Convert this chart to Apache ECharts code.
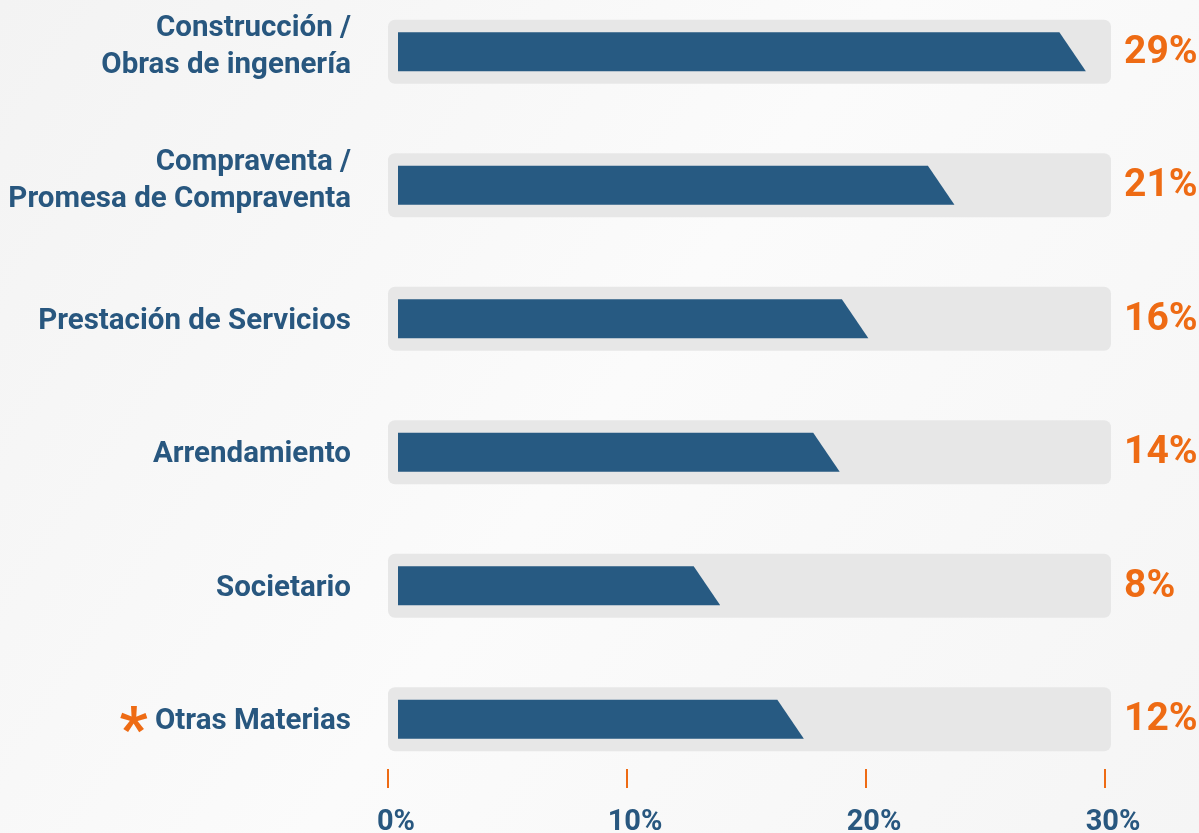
<!DOCTYPE html>
<html>
<head>
<meta charset="utf-8">
<script src="https://cdn.jsdelivr.net/npm/echarts@6/dist/echarts.min.js"></script>
<style>
  html, body { margin: 0; padding: 0; }
  #chart { width: 1199px; height: 833px; }
</style>
</head>
<body>
<div id="chart"></div>
<script>
const categories = [
  'Construcción /\nObras de ingenería',
  'Compraventa /\nPromesa de Compraventa',
  'Prestación de Servicios',
  'Arrendamiento',
  'Societario',
  'Otras Materias'
]
// printed shares (labels at the right)
const shares = [29, 21, 16, 14, 8, 12]
// where each dark bar ends on the 0-30 % axis, as drawn
const barEnds = [29.2, 23.7, 20.1, 18.9, 13.9, 17.4]
const xTicks = [0, 10, 20, 30]

const blue = '#275a82'
const textBlue = '#28577f'
const orange = '#ee6b14'
const axisMax = 30

const chart = echarts.init(document.getElementById('chart'))

function renderTrack(params, api) {
  const idx = api.value(1)
  const start = api.coord([0, idx])
  const end = api.coord([axisMax, idx])
  const h = api.size([0, 1])[1] * 0.48
  return {
    type: 'group',
    children: [
      {
        type: 'rect',
        shape: { x: start[0], y: start[1] - h / 2, width: end[0] - start[0] + 6, height: h, r: 7 },
        style: { fill: '#e7e7e7' }
      },
      {
        type: 'text',
        style: {
          text: shares[idx] + '%',
          x: end[0] + 19,
          y: start[1] + 1,
          align: 'left',
          verticalAlign: 'middle',
          fill: orange,
          font: 'bold 39px Roboto, sans-serif'
        }
      }
    ]
  }
}

function renderBar(params, api) {
  const idx = api.value(1)
  const start = api.coord([0, idx])
  const end = api.coord([api.value(0), idx])
  const h = api.size([0, 1])[1] * 0.292
  const slant = h * 0.68
  const x0 = start[0] + 10
  const top = start[1] - h / 2
  const bottom = start[1] + h / 2
  return {
    type: 'polygon',
    shape: {
      points: [[x0, top], [end[0] - slant, top], [end[0], bottom], [x0, bottom]]
    },
    style: { fill: blue }
  }
}

function yLabel(v) {
  if (v === 'Otras Materias') return '{ast|*} ' + v
  if (v.includes('\n')) {
    // two-line labels sit a little above the bar centre
    return v.split('\n').map((s) => '{t|' + s + '}').join('\n') + '\n{gap| }'
  }
  return v
}

const option = {
  backgroundColor: {
    type: 'linear', x: 0, y: 0, x2: 1, y2: 1,
    colorStops: [
      { offset: 0, color: '#f3f3f3' },
      { offset: 0.5, color: '#fbfbfb' },
      { offset: 1, color: '#f5f5f5' }
    ]
  },
  animation: false,
  grid: { left: 388, right: 94, top: -15, bottom: 47, outerBoundsMode: 'none' },
  xAxis: {
    type: 'value',
    min: 0,
    max: axisMax,
    interval: 10,
    offset: 2,
    axisLine: { show: false },
    splitLine: { show: false },
    axisTick: { show: true, inside: true, length: 19, lineStyle: { color: orange, width: 2 } },
    axisLabel: {
      margin: 20,
      padding: [0, 0, 0, 16],
      color: textBlue,
      fontFamily: 'Roboto, sans-serif',
      fontWeight: 'bold',
      fontSize: 29,
      formatter: (v) => (xTicks.includes(v) ? v + '%' : '')
    }
  },
  yAxis: {
    type: 'category',
    inverse: true,
    data: categories,
    axisLine: { show: false },
    axisTick: { show: false },
    axisLabel: {
      margin: 37,
      padding: [5, 0, 0, 0],
      color: textBlue,
      fontFamily: 'Roboto, sans-serif',
      fontWeight: 'bold',
      fontSize: 29.5,
      lineHeight: 37,
      align: 'right',
      formatter: yLabel,
      rich: {
        t: {
          color: textBlue,
          fontFamily: 'Roboto, sans-serif',
          fontWeight: 'bold',
          fontSize: 29.5,
          lineHeight: 37
        },
        gap: { fontSize: 10, lineHeight: 14 },
        ast: {
          color: orange,
          fontFamily: 'Roboto, sans-serif',
          fontWeight: 'bold',
          fontSize: 62,
          padding: [26, 0, 0, 0]
        }
      }
    }
  },
  series: [
    {
      type: 'custom',
      renderItem: renderTrack,
      encode: { x: 0, y: 1 },
      data: shares.map((s, i) => [axisMax, i]),
      silent: true
    },
    {
      type: 'custom',
      renderItem: renderBar,
      encode: { x: 0, y: 1 },
      data: barEnds.map((v, i) => [v, i]),
      silent: true
    }
  ]
}

chart.setOption(option)
window.addEventListener('resize', () => chart.resize())
</script>
</body>
</html>
